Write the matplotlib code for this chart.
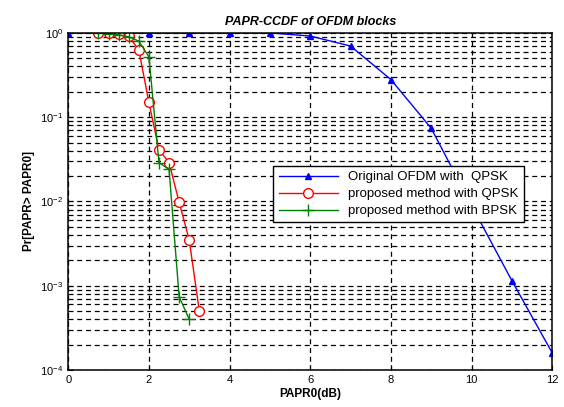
import matplotlib.pyplot as plt
from matplotlib.ticker import LogLocator, NullFormatter

# PAPR threshold (dB) and CCDF values
papr_orig = [0, 1, 2, 3, 4, 5, 6, 7, 8, 9, 10, 11, 12]
ccdf_orig = [1.0, 1.0, 1.0, 1.0, 1.0, 1.0, 0.92, 0.70, 0.28, 0.074, 0.009, 0.00115, 0.00016]

papr_qpsk = [0.75, 1.0, 1.25, 1.5, 1.75, 2.0, 2.25, 2.5, 2.75, 3.0, 3.25]
ccdf_qpsk = [1.0, 0.99, 0.96, 0.91, 0.63, 0.15, 0.041, 0.029, 0.0098, 0.0035, 0.0005]

papr_bpsk = [0.75, 1.0, 1.25, 1.5, 1.75, 2.0, 2.25, 2.5, 2.75, 3.0]
ccdf_bpsk = [1.0, 0.98, 0.95, 0.90, 0.80, 0.52, 0.029, 0.024, 0.00074, 0.0004]

labels = ['Original OFDM with  QPSK',
          'proposed method with QPSK',
          'proposed method with BPSK']

plt.rcParams['font.family'] = ['Liberation Sans', 'DejaVu Sans']

fig = plt.figure(figsize=(5.64, 4.07), dpi=100)
ax = fig.add_axes([0.121, 0.091, 0.858, 0.828])

ax.semilogy(papr_orig, ccdf_orig, color='#0000ff', marker='^', markersize=4,
            linewidth=1, label=labels[0])
ax.semilogy(papr_qpsk, ccdf_qpsk, color='#ff0000', marker='o', markersize=7,
            markerfacecolor='white', linewidth=1, label=labels[1])
ax.semilogy(papr_bpsk, ccdf_bpsk, color='#008000', marker='+', markersize=9,
            linewidth=1, label=labels[2])

ax.set_xlim(0, 12)
ax.set_ylim(1e-4, 1)
ax.set_xticks(range(0, 13, 2))
ax.yaxis.set_major_locator(LogLocator(base=10, numticks=10))
ax.yaxis.set_minor_locator(LogLocator(base=10, subs=range(2, 10), numticks=20))
ax.yaxis.set_minor_formatter(NullFormatter())

ax.grid(True, which='major', linestyle=(0, (4, 3)), color='black', linewidth=0.9)
ax.grid(True, which='minor', axis='y', linestyle=(0, (4, 3)), color='black', linewidth=0.9)
ax.tick_params(which='both', direction='in', labelsize=8)
for s in ax.spines.values():
    s.set_linewidth(1.1)

ax.set_title('PAPR-CCDF of OFDM blocks', fontsize=9, fontweight='bold', style='italic')
ax.set_xlabel('PAPR0(dB)', fontsize=8.5, fontweight='bold', labelpad=2)
ax.set_ylabel('Pr[PAPR> PAPR0]', fontsize=8.5, fontweight='bold')

leg = ax.legend(loc='upper left', bbox_to_anchor=(0.41, 0.625), fontsize=9.5,
                fancybox=False, framealpha=1, edgecolor='black',
                handlelength=4.5, borderpad=0.4, labelspacing=0.35)
leg.get_frame().set_linewidth(1)

fig.savefig('out.png', dpi=100)
